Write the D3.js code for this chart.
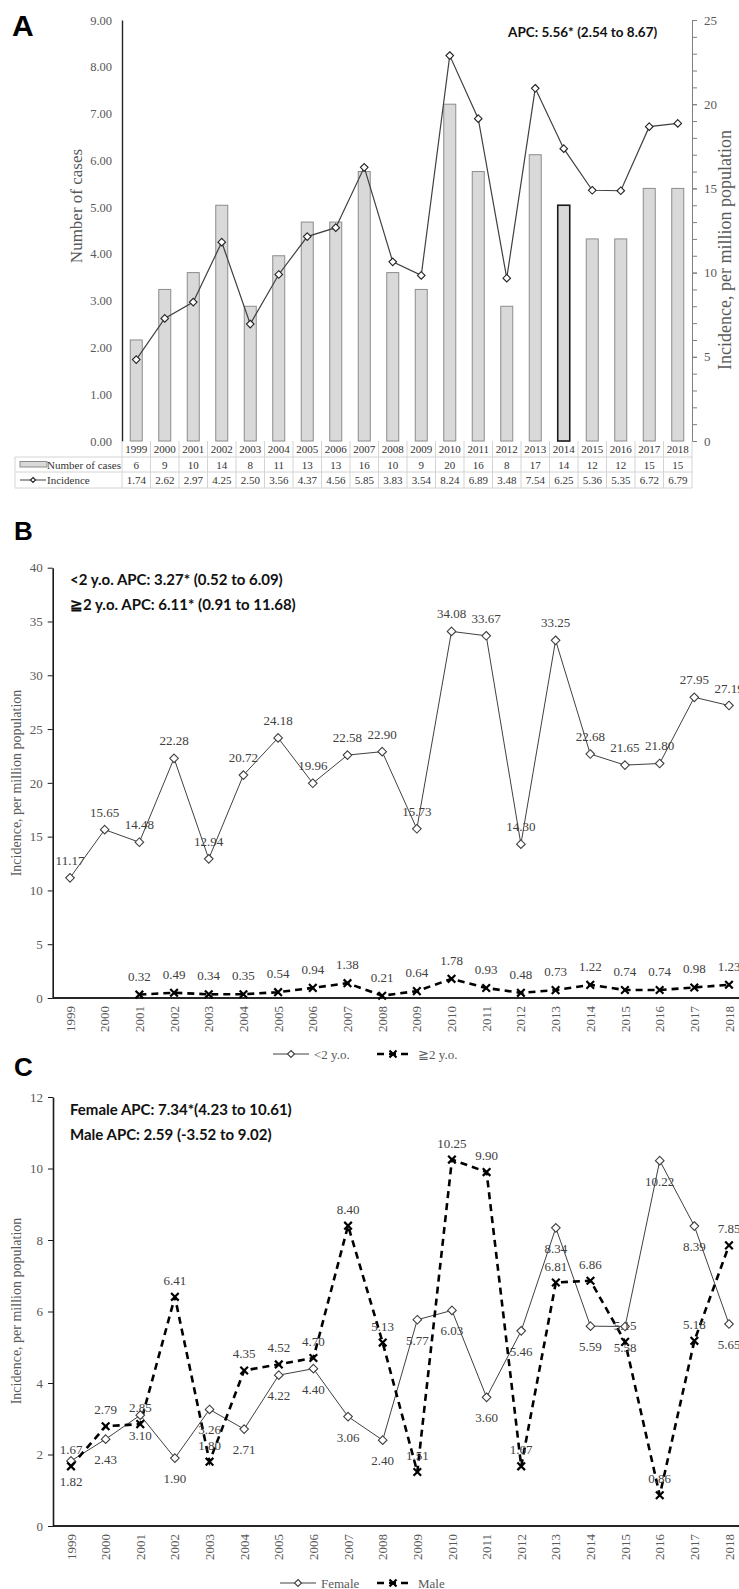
<!DOCTYPE html>
<html>
<head>
<meta charset="utf-8">
<script src="https://cdn.jsdelivr.net/npm/d3@7/dist/d3.min.js"></script>
<style>
  body { margin: 0; background: #fff; }
  svg text { font-family: "Liberation Serif", "Times New Roman", serif; }
  svg text.apc { font-family: "Lato", "Open Sans", sans-serif; font-weight: bold; fill: #111; }
  svg text.letter { font-family: "Liberation Sans", Arial, sans-serif; font-weight: bold; fill: #000; }
</style>
</head>
<body>
<svg id="chart" width="739" height="1589"></svg>
<script>
// data
var years = ["1999", "2000", "2001", "2002", "2003", "2004", "2005", "2006", "2007", "2008",
             "2009", "2010", "2011", "2012", "2013", "2014", "2015", "2016", "2017", "2018"];

// panel A
var cases     = [6, 9, 10, 14, 8, 11, 13, 13, 16, 10, 9, 20, 16, 8, 17, 14, 12, 12, 15, 15];
var incidence = [1.74, 2.62, 2.97, 4.25, 2.50, 3.56, 4.37, 4.56, 5.85, 3.83,
                 3.54, 8.24, 6.89, 3.48, 7.54, 6.25, 5.36, 5.35, 6.72, 6.79];
var leftTicksA  = [0, 1, 2, 3, 4, 5, 6, 7, 8, 9];
var rightTicksA = [0, 5, 10, 15, 20, 25];

// panel B
var under2 = [11.17, 15.65, 14.48, 22.28, 12.94, 20.72, 24.18, 19.96, 22.58, 22.90,
              15.73, 34.08, 33.67, 14.30, 33.25, 22.68, 21.65, 21.80, 27.95, 27.19];
var over2  = [null, null, 0.32, 0.49, 0.34, 0.35, 0.54, 0.94, 1.38, 0.21,
              0.64, 1.78, 0.93, 0.48, 0.73, 1.22, 0.74, 0.74, 0.98, 1.23];
var ticksB = [0, 5, 10, 15, 20, 25, 30, 35, 40];

// panel C
var female = [1.82, 2.43, 3.10, 1.90, 3.26, 2.71, 4.22, 4.40, 3.06, 2.40,
              5.77, 6.03, 3.60, 5.46, 8.34, 5.59, 5.58, 10.22, 8.39, 5.65];
var male   = [1.67, 2.79, 2.85, 6.41, 1.80, 4.35, 4.52, 4.70, 8.40, 5.13,
              1.51, 10.25, 9.90, 1.67, 6.81, 6.86, 5.15, 0.86, 5.18, 7.85];
var ticksC = [0, 2, 4, 6, 8, 10, 12];

var svg = d3.select('#chart');
var grey = '#595959', dark = '#404040', gridCol = '#d4d4d4';

function drawDiamond(g, x, y, r, col) {
  g.append('path')
    .attr('d', 'M' + x + ',' + (y - r) + 'L' + (x + r) + ',' + y + 'L' + x + ',' + (y + r) + 'L' + (x - r) + ',' + y + 'Z')
    .attr('fill', '#fff').attr('stroke', col).attr('stroke-width', 1.1);
}

function drawCross(g, x, y, r) {
  g.append('path')
    .attr('d', 'M' + (x - r) + ',' + (y - r) + 'L' + (x + r) + ',' + (y + r) + 'M' + (x + r) + ',' + (y - r) + 'L' + (x - r) + ',' + (y + r))
    .attr('stroke', '#000').attr('stroke-width', 2.2).attr('fill', 'none');
}

function styleAxis(g, lineCol, lineW, fontSize) {
  g.select('.domain').attr('stroke', lineCol).attr('stroke-width', lineW);
  g.selectAll('.tick line').attr('stroke', lineCol);
  g.selectAll('.tick text').attr('fill', grey).style('font-size', fontSize + 'px')
    .style('font-family', '"Liberation Serif", serif');
}

// ---------------- panel A ----------------
var gA = svg.append('g');
gA.append('text').attr('class', 'letter').attr('x', 12).attr('y', 36).style('font-size', '30px').text('A');

var xA = d3.scaleBand().domain(years).range([122, 692]);
var yLeft = d3.scaleLinear().domain([0, 9]).range([441, 20]);
var yRight = d3.scaleLinear().domain([0, 25]).range([441, 20]);
var midA = function (yr) { return xA(yr) + xA.bandwidth() / 2; };

gA.selectAll('rect.bar')
  .data(cases)
  .enter()
  .append('rect')
  .attr('class', 'bar')
  .attr('x', function (d, i) { return midA(years[i]) - 6; })
  .attr('width', 12)
  .attr('y', function (d) { return yRight(d); })
  .attr('height', function (d) { return yRight(0) - yRight(d); })
  .attr('fill', '#d9d9d9')
  .attr('stroke', function (d, i) { return years[i] === '2014' ? '#1a1a1a' : '#8c8c8c'; })
  .attr('stroke-width', function (d, i) { return years[i] === '2014' ? 1.6 : 1; });

var lineA = d3.line()
  .x(function (d, i) { return midA(years[i]); })
  .y(function (d) { return yLeft(d); });

gA.append('path').datum(incidence).attr('d', lineA)
  .attr('fill', 'none').attr('stroke', dark).attr('stroke-width', 1.2);
incidence.forEach(function (v, i) { drawDiamond(gA, midA(years[i]), yLeft(v), 3.8, '#222'); });

var axL = gA.append('g').attr('transform', 'translate(122,0)')
  .call(d3.axisLeft(yLeft).tickValues(leftTicksA).tickFormat(d3.format('.2f')).tickSize(0).tickPadding(10));
styleAxis(axL, '#262626', 1.4, 12.5);

var axRminor = gA.append('g').attr('transform', 'translate(692,0)')
  .call(d3.axisRight(yRight).ticks(25).tickSize(5).tickFormat('').tickSizeOuter(0));
styleAxis(axRminor, '#7f7f7f', 1, 12);
var axR = gA.append('g').attr('transform', 'translate(692,0)')
  .call(d3.axisRight(yRight).tickValues(rightTicksA).tickSize(5).tickPadding(7).tickSizeOuter(0));
styleAxis(axR, '#7f7f7f', 1, 13);

gA.append('text').attr('transform', 'translate(82,206) rotate(-90)')
  .attr('text-anchor', 'middle').attr('fill', grey).style('font-size', '17px').text('Number of cases');
gA.append('text').attr('transform', 'translate(731,250) rotate(-90)')
  .attr('text-anchor', 'middle').attr('fill', grey).style('font-size', '18px').text('Incidence, per million population');

gA.append('text').attr('class', 'apc').attr('x', 508).attr('y', 37).style('font-size', '13.5px')
  .text('APC: 5.56* (2.54 to 8.67)');

// data table under panel A
var rowY = [441, 457, 472, 488];
var table = gA.append('g');
xA.domain().concat([null]).forEach(function (yr, i) {
  var x = 122 + i * xA.bandwidth();
  table.append('line').attr('x1', x).attr('x2', x).attr('y1', 441).attr('y2', 488)
    .attr('stroke', gridCol);
});
rowY.slice(1).forEach(function (y) {
  table.append('line').attr('x1', 15).attr('x2', 692).attr('y1', y).attr('y2', y).attr('stroke', gridCol);
});
table.append('line').attr('x1', 15).attr('x2', 15).attr('y1', 457).attr('y2', 488).attr('stroke', gridCol);

var cellText = function (x, y, t) {
  table.append('text').attr('x', x).attr('y', y).attr('text-anchor', 'middle')
    .attr('fill', '#333').style('font-size', '11px').text(t);
};
years.forEach(function (yr, i) {
  cellText(midA(yr), 453, yr);
  cellText(midA(yr), 468.5, cases[i]);
  cellText(midA(yr), 484, d3.format('.2f')(incidence[i]));
});
table.append('rect').attr('x', 20).attr('y', 461.5).attr('width', 27).attr('height', 5.5)
  .attr('fill', '#d9d9d9').attr('stroke', '#8c8c8c');
table.append('text').attr('x', 47).attr('y', 468.5).attr('fill', '#333').style('font-size', '11px').text('Number of cases');
table.append('line').attr('x1', 20).attr('x2', 46).attr('y1', 480).attr('y2', 480).attr('stroke', dark);
drawDiamond(table, 33, 480, 2.5, '#222');
table.append('text').attr('x', 47).attr('y', 484).attr('fill', '#333').style('font-size', '11px').text('Incidence');

// ---------------- panel B & C (shared drawing) ----------------
function lineChart(opt) {
  var g = svg.append('g');
  g.append('text').attr('class', 'letter').attr('x', 14).attr('y', opt.letterY).style('font-size', '26px').text(opt.letter);

  var x = d3.scalePoint().domain(years).range([opt.x0, 729]);
  var y = d3.scaleLinear().domain(opt.domain).range([opt.bottom, opt.top]);

  // baseline
  g.append('line').attr('x1', opt.axisX).attr('x2', 739).attr('y1', opt.bottom).attr('y2', opt.bottom)
    .attr('stroke', '#262626').attr('stroke-width', 2);

  var ax = g.append('g').attr('transform', 'translate(' + opt.axisX + ',0)')
    .call(d3.axisLeft(y).tickValues(opt.ticks).tickSize(5).tickPadding(5).tickSizeOuter(0));
  styleAxis(ax, '#1a1a1a', 1.6, 13);

  // rotated year labels
  g.selectAll('text.yr')
    .data(years)
    .enter()
    .append('text')
    .attr('class', 'yr')
    .attr('transform', function (d) { return 'translate(' + x(d) + ',' + (opt.bottom + 8) + ') rotate(-90)'; })
    .attr('text-anchor', 'end')
    .attr('dy', '0.35em')
    .attr('fill', grey)
    .style('font-size', '13px')
    .text(function (d) { return d; });

  g.append('text').attr('transform', 'translate(' + opt.titleX + ',' + opt.titleY + ') rotate(-90)')
    .attr('text-anchor', 'middle').attr('fill', grey).style('font-size', '14px')
    .text('Incidence, per million population');

  opt.apc.forEach(function (t, i) {
    g.append('text').attr('class', 'apc').attr('x', 70).attr('y', opt.apcY + i * 24.5)
      .style('font-size', '15px').text(t);
  });

  // solid series with diamonds
  var solid = d3.line().defined(function (d) { return d != null; })
    .x(function (d, i) { return x(years[i]); })
    .y(function (d) { return y(d); });

  g.append('path').datum(opt.s1).attr('d', solid)
    .attr('fill', 'none').attr('stroke', dark).attr('stroke-width', 1);
  g.append('path').datum(opt.s2).attr('d', solid)
    .attr('fill', 'none').attr('stroke', '#000').attr('stroke-width', 2.6).attr('stroke-dasharray', '7,5');

  opt.s1.forEach(function (v, i) { drawDiamond(g, x(years[i]), y(v), 4.3, dark); });
  opt.s2.forEach(function (v, i) { if (v != null) drawCross(g, x(years[i]), y(v), 3.8); });

  var label = function (v, i, dy) {
    g.append('text').attr('x', x(years[i])).attr('y', y(v) + dy).attr('text-anchor', 'middle')
      .attr('fill', '#404040').style('font-size', '13px').text(d3.format('.2f')(v));
  };
  opt.s1.forEach(function (v, i) { label(v, i, opt.dy1); });
  opt.s2.forEach(function (v, i) { if (v != null) label(v, i, opt.dy2); });

  // legend
  var ly = opt.legendY, lx = opt.legendX;
  g.append('line').attr('x1', lx).attr('x2', lx + 36).attr('y1', ly).attr('y2', ly).attr('stroke', dark);
  drawDiamond(g, lx + 18, ly, 3.5, dark);
  g.append('text').attr('x', lx + 41).attr('y', ly + 4.5).attr('fill', grey).style('font-size', '13px').text(opt.names[0]);
  var l2 = lx + opt.legendGap;
  g.append('line').attr('x1', l2).attr('x2', l2 + 36).attr('y1', ly).attr('y2', ly)
    .attr('stroke', '#000').attr('stroke-width', 2.6).attr('stroke-dasharray', '7,5').attr('stroke-dashoffset', -1);
  drawCross(g, l2 + 17, ly, 3.5);
  g.append('text').attr('x', l2 + 42).attr('y', ly + 4.5).attr('fill', grey).style('font-size', '13px').text(opt.names[1]);
}

lineChart({
  letter: 'B', letterY: 540,
  x0: 70, axisX: 52.7, top: 567.7, bottom: 998, domain: [0, 40], ticks: ticksB,
  titleX: 21, titleY: 783,
  apc: ['<2 y.o. APC: 3.27* (0.52 to 6.09)', '\u2267' + '2 y.o. APC: 6.11* (0.91 to 11.68)'],
  apcY: 585,
  s1: under2, s2: over2, dy1: -13, dy2: -14,
  names: ['<2 y.o.', '\u2267' + '2 y.o.'],
  legendX: 273, legendY: 1054, legendGap: 103
});

lineChart({
  letter: 'C', letterY: 1076,
  x0: 71, axisX: 53, top: 1097, bottom: 1526, domain: [0, 12], ticks: ticksC,
  titleX: 21, titleY: 1311,
  apc: ['Female APC: 7.34*(4.23 to 10.61)', 'Male APC: 2.59 (-3.52 to 9.02)'],
  apcY: 1115,
  s1: female, s2: male, dy1: 25, dy2: -12,
  names: ['Female', 'Male'],
  legendX: 280, legendY: 1583, legendGap: 96
});
</script>
</body>
</html>
